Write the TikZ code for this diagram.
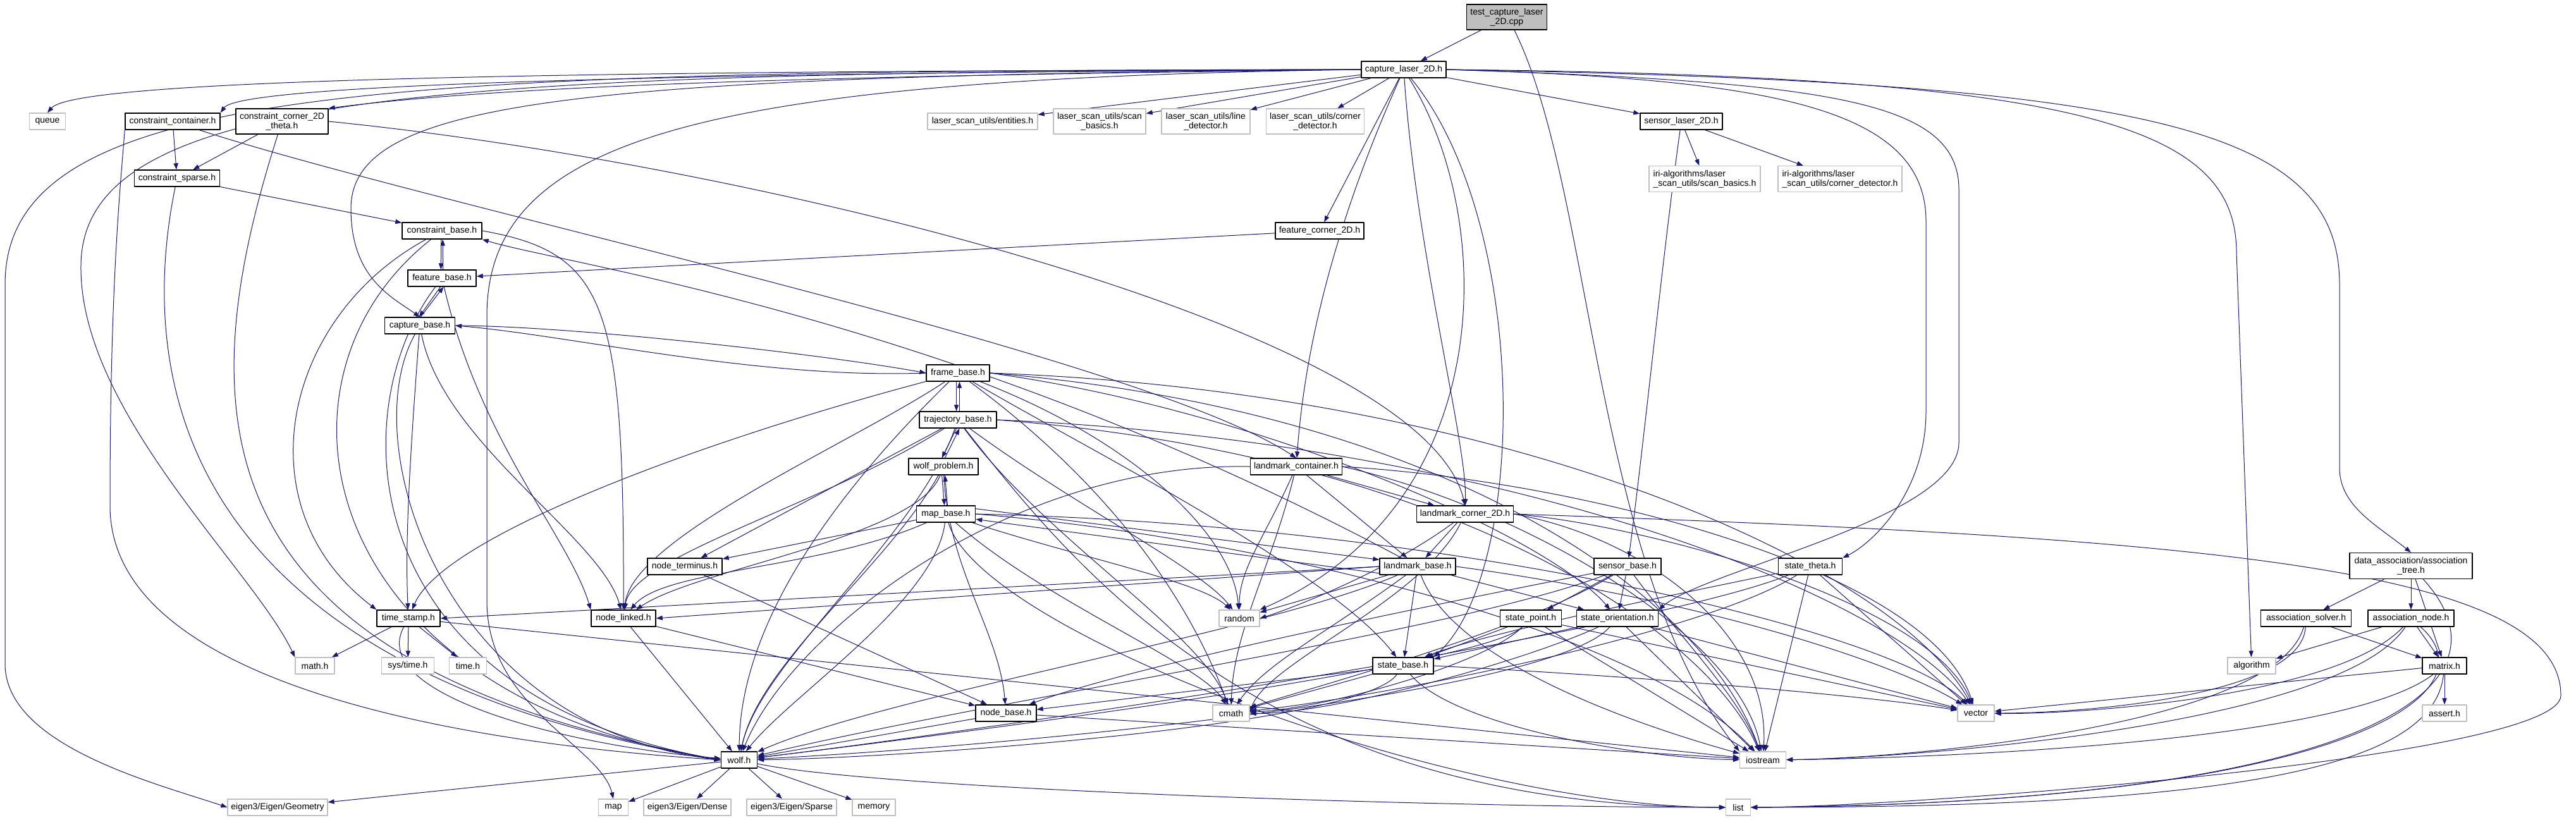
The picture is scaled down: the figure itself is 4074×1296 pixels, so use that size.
\documentclass[tikz,border=0pt]{standalone}
\usepackage{fontspec}
\setmainfont{Liberation Sans}
\usetikzlibrary{arrows.meta}
\definecolor{edgeblue}{HTML}{191970}
\definecolor{sysgray}{HTML}{BFBFBF}
\pgfdeclarelayer{edges}
\pgfsetlayers{edges,main}
\begin{document}
\begin{tikzpicture}[x=0.5pt,y=0.5pt,line join=round,
  hdr/.style={draw=black,fill=white,line width=0.7pt,minimum height=13pt,inner sep=1pt,font=\fontsize{7}{7.5}\selectfont,align=center},
  sys/.style={hdr,draw=sysgray,line width=0.6pt},
  root/.style={hdr,fill=sysgray},
  inc/.style={draw=edgeblue,line width=0.5pt,-{Triangle[length=5pt,width=3.6pt]}}]
\useasboundingbox (0,0) rectangle (4074,-1296);
\node[root,minimum width=63.5pt,minimum height=20pt] (test) at (2383,-27) {test\_capture\_laser\\\_2D.cpp};
\node[hdr,minimum width=67pt] (CL) at (2220,-110) {capture\_laser\_2D.h};
\node[sys,minimum width=28.5pt] (queue) at (75,-192) {queue};
\node[hdr,minimum width=75pt] (CC) at (273,-192) {constraint\_container.h};
\node[hdr,minimum width=73pt,minimum height=20pt] (CCT) at (446,-192) {constraint\_corner\_2D\\\_theta.h};
\node[sys,minimum width=87pt] (ent) at (1554,-192) {laser\_scan\_utils/entities.h};
\node[sys,minimum width=73pt,minimum height=20pt] (scan) at (1739,-192) {laser\_scan\_utils/scan\\\_basics.h};
\node[sys,minimum width=70pt,minimum height=20pt] (line) at (1907,-192) {laser\_scan\_utils/line\\\_detector.h};
\node[sys,minimum width=77.5pt,minimum height=20pt] (corner) at (2080,-192) {laser\_scan\_utils/corner\\\_detector.h};
\node[hdr,minimum width=65pt] (SL) at (2659,-192) {sensor\_laser\_2D.h};
\node[hdr,minimum width=67.5pt] (CS) at (280,-282) {constraint\_sparse.h};
\node[sys,minimum width=88pt,minimum height=20.5pt,align=left] (IRIscan) at (2696,-283) {iri-algorithms/laser\\\_scan\_utils/scan\_basics.h};
\node[sys,minimum width=98pt,minimum height=20.5pt,align=left] (IRIcorner) at (2910,-283) {iri-algorithms/laser\\\_scan\_utils/corner\_detector.h};
\node[hdr,minimum width=63pt] (Cbase) at (699,-365) {constraint\_base.h};
\node[hdr,minimum width=70pt] (FC) at (2087,-365) {feature\_corner\_2D.h};
\node[hdr,minimum width=54pt] (Fbase) at (699,-440) {feature\_base.h};
\node[hdr,minimum width=55.5pt] (Capbase) at (664,-515) {capture\_base.h};
\node[hdr,minimum width=50pt] (Frame) at (1515,-590) {frame\_base.h};
\node[hdr,minimum width=61pt] (Traj) at (1515,-664) {trajectory\_base.h};
\node[hdr,minimum width=55pt] (WP) at (1492,-738) {wolf\_problem.h};
\node[hdr,minimum width=72.5pt] (LC) at (2050,-738) {landmark\_container.h};
\node[hdr,minimum width=46.5pt] (MB) at (1496,-813) {map\_base.h};
\node[hdr,minimum width=76.5pt] (LCor) at (2317,-813) {landmark\_corner\_2D.h};
\node[hdr,minimum width=59pt] (NT) at (1083,-896) {node\_terminus.h};
\node[hdr,minimum width=60pt] (LB) at (2242,-896) {landmark\_base.h};
\node[hdr,minimum width=53pt] (SB) at (2574,-896) {sensor\_base.h};
\node[hdr,minimum width=50.5pt] (STh) at (2863,-896) {state\_theta.h};
\node[hdr,minimum width=97pt,minimum height=20.5pt] (AT) at (3813,-895) {data\_association/association\\\_tree.h};
\node[hdr,minimum width=50pt] (TS) at (646,-978) {time\_stamp.h};
\node[hdr,minimum width=51pt] (NL) at (986,-978) {node\_linked.h};
\node[sys,minimum width=32pt] (random) at (1960,-978) {random};
\node[hdr,minimum width=48.5pt] (SP) at (2421,-978) {state\_point.h};
\node[hdr,minimum width=64.5pt] (SO) at (2558,-978) {state\_orientation.h};
\node[hdr,minimum width=71.5pt] (AS) at (3647,-978) {association\_solver.h};
\node[hdr,minimum width=68pt] (AN) at (3813,-978) {association\_node.h};
\node[sys,minimum width=31pt] (mathh) at (498,-1053) {math.h};
\node[sys,minimum width=41.5pt] (systime) at (645,-1053) {sys/time.h};
\node[sys,minimum width=29.5pt] (timeh) at (740,-1053) {time.h};
\node[hdr,minimum width=48pt] (StB) at (2219,-1053) {state\_base.h};
\node[sys,minimum width=38pt] (algorithm) at (3561,-1053) {algorithm};
\node[hdr,minimum width=35pt] (matrix) at (3866,-1053) {matrix.h};
\node[hdr,minimum width=48pt] (NB) at (1591,-1128) {node\_base.h};
\node[sys,minimum width=29pt] (cmath) at (1947,-1128) {cmath};
\node[sys,minimum width=29pt] (vector) at (3125,-1128) {vector};
\node[sys,minimum width=35pt] (assert) at (3866,-1128) {assert.h};
\node[hdr,minimum width=28.5pt] (wolf) at (1169,-1202) {wolf.h};
\node[sys,minimum width=36.5pt] (iostream) at (2788,-1202) {iostream};
\node[sys,minimum width=79pt] (Geometry) at (439,-1277) {eigen3/Eigen/Geometry};
\node[sys,minimum width=23.5pt] (map) at (970,-1277) {map};
\node[sys,minimum width=69pt] (Dense) at (1087,-1277) {eigen3/Eigen/Dense};
\node[sys,minimum width=71pt] (Sparse) at (1252,-1277) {eigen3/Eigen/Sparse};
\node[sys,minimum width=34pt] (memory) at (1382,-1277) {memory};
\node[sys,minimum width=19.5pt] (list) at (2749,-1277) {list};
\begin{pgfonlayer}{edges}
% test_capture_laser_2D.cpp
\draw[inc] (test) -- (CL);
\draw[inc] (test.-60) .. controls (2520,-300) and (2520,-900) .. (iostream.north west);
% capture_laser_2D.h
\draw[inc] (CL.west) .. controls (900,-112) and (120,-125) .. (queue.north);
\draw[inc] (CL.west) .. controls (1000,-116) and (380,-135) .. (CC.north east);
\draw[inc] (CL.west) .. controls (1300,-120) and (800,-135) .. (CCT.north east);
\draw[inc] (CL.west) .. controls (900,-120) and (555,-160) .. (555,-330) .. controls (555,-440) and (620,-470) .. (Capbase.north);
\draw[inc] (CL.west) .. controls (700,-115) and (130,-140) .. (128,-420) .. controls (125,-650) and (400,-900) .. (mathh.north west);
\draw[inc] (CL.west) .. controls (600,-112) and (8,-130) .. (8,-450) -- (8,-1050) .. controls (8,-1180) and (250,-1240) .. (Geometry.west);
\draw[inc] (CL.west) .. controls (1100,-125) and (770,-220) .. (770,-500) -- (770,-950) .. controls (770,-1120) and (950,-1180) .. (map.north);
\draw[inc] (CL) -- (ent);
\draw[inc] (CL) -- (scan);
\draw[inc] (CL) -- (line);
\draw[inc] (CL) -- (corner);
\draw[inc] (CL) -- (SL);
\draw[inc] (CL) -- (FC);
\draw[inc] (CL) .. controls (2090,-400) and (2060,-600) .. (LC);
\draw[inc] (CL) .. controls (2240,-400) and (2320,-700) .. (LCor);
\draw[inc] (CL) .. controls (2369,-350) and (2369,-800) .. (random.north east);
\draw[inc] (CL) .. controls (2418,-350) and (2418,-900) .. (StB.north east);
\draw[inc] (CL.east) .. controls (2800,-125) and (3046,-170) .. (3046,-350) -- (3046,-650) .. controls (3046,-780) and (2960,-860) .. (STh.north east);
\draw[inc] (CL.east) .. controls (2900,-130) and (3098,-160) .. (3098,-300) -- (3098,-700) .. controls (3098,-820) and (2700,-900) .. (SO.north east);
\draw[inc] (CL.east) .. controls (3300,-120) and (3537,-200) .. (3537,-400) -- (algorithm);
\draw[inc] (CL.east) .. controls (3400,-130) and (3700,-200) .. (3700,-450) -- (3700,-740) .. controls (3700,-800) and (3758,-830) .. (AT.north);
% constraints
\draw[inc] (CC) -- (CS);
\draw[inc] (CC.south west) .. controls (190,-300) and (174,-450) .. (174,-800) .. controls (174,-1100) and (800,-1180) .. (wolf.west);
\draw[inc] (CC) .. controls (700,-330) and (1800,-560) .. (LC.north);
\draw[inc] (CCT) -- (CS);
\draw[inc] (CCT) .. controls (300,-650) and (300,-1050) .. (wolf.west);
\draw[inc] (CCT.east) .. controls (1200,-260) and (2250,-520) .. (LCor.north);
\draw[inc] (CS) -- (Cbase);
\draw[inc] (CS) .. controls (225,-550) and (235,-1050) .. (wolf.west);
\draw[inc] (Cbase.-95) -- (Fbase.97);
\draw[inc] (Cbase.east) .. controls (960,-400) and (987,-480) .. (NL);
\draw[inc] (Cbase) .. controls (450,-500) and (380,-800) .. (TS.north west);
\draw[inc] (Cbase) .. controls (400,-600) and (500,-1100) .. (wolf.west);
% feature / capture
\draw[inc] (Fbase.83) -- (Cbase.-85);
\draw[inc] (Fbase.-100) -- (Capbase.95);
\draw[inc] (Fbase) .. controls (760,-700) and (900,-850) .. (NL.north west);
\draw[inc] (Fbase) .. controls (540,-650) and (560,-1100) .. (wolf.west);
\draw[inc] (FC) -- (Fbase);
\draw[inc] (Capbase.85) -- (Fbase.-80);
\draw[inc] (Capbase.east) .. controls (900,-515) and (1300,-560) .. (Frame.west);
\draw[inc] (Capbase) .. controls (650,-700) and (640,-850) .. (TS);
\draw[inc] (Capbase) .. controls (560,-700) and (700,-1150) .. (wolf.west);
\draw[inc] (Capbase) .. controls (700,-700) and (950,-850) .. (NL);
% frame / trajectory / problem / map
\draw[inc] (Frame.-100) -- (Traj.100);
\draw[inc] (Frame.west) .. controls (1200,-600) and (900,-530) .. (Capbase.east);
\draw[inc] (Frame) .. controls (1350,-700) and (1000,-850) .. (NL);
\draw[inc] (Frame) .. controls (1100,-700) and (700,-850) .. (TS);
\draw[inc] (Frame) .. controls (1300,-800) and (1170,-1000) .. (wolf);
\draw[inc] (Frame) .. controls (1700,-700) and (2100,-900) .. (StB);
\draw[inc] (Frame.east) .. controls (2000,-650) and (2450,-850) .. (SO);
\draw[inc] (Frame.east) .. controls (2400,-620) and (3000,-900) .. (vector);
\draw[inc] (Frame.east) .. controls (2300,-650) and (2700,-950) .. (iostream);
\draw[inc] (Frame) .. controls (1800,-800) and (1900,-1000) .. (cmath);
\draw[inc] (Frame) .. controls (1800,-700) and (1950,-850) .. (random);
\draw[inc] (Traj.80) -- (Frame.-80);
\draw[inc] (Traj.-100) -- (WP.100);
\draw[inc] (Traj) .. controls (1300,-800) and (1000,-880) .. (NL);
\draw[inc] (Traj) -- (NT);
\draw[inc] (Traj) .. controls (1450,-850) and (1200,-1050) .. (wolf);
\draw[inc] (Traj) .. controls (1700,-800) and (1900,-900) .. (random);
\draw[inc] (Traj) .. controls (1650,-850) and (1900,-1000) .. (cmath);
\draw[inc] (Traj.east) .. controls (2400,-700) and (3000,-950) .. (vector);
\draw[inc] (Traj.east) .. controls (2300,-720) and (2700,-1000) .. (iostream);
\draw[inc] (Traj) .. controls (1700,-900) and (2000,-1277) .. (list.west);
\draw[inc] (WP.80) -- (Traj.-80);
\draw[inc] (WP.-100) -- (MB.100);
\draw[inc] (WP) .. controls (1400,-900) and (1200,-1050) .. (wolf);
\draw[inc] (WP) .. controls (1450,-850) and (1100,-900) .. (NL);
\draw[inc] (WP) .. controls (1500,-900) and (1580,-1000) .. (NB);
\draw[inc] (MB.80) -- (WP.-80);
\draw[inc] (MB.10) -- (LB.170);
\draw[inc] (MB) -- (NT);
\draw[inc] (MB) .. controls (1300,-900) and (1050,-900) .. (NL);
\draw[inc] (MB) .. controls (1480,-950) and (1250,-1100) .. (wolf);
\draw[inc] (MB) .. controls (1700,-880) and (1900,-920) .. (random);
\draw[inc] (MB) .. controls (1650,-950) and (1900,-1050) .. (cmath);
\draw[inc] (MB) .. controls (1550,-1000) and (2300,-1277) .. (list.west);
\draw[inc] (MB.east) .. controls (2000,-850) and (2600,-1000) .. (iostream);
\draw[inc] (MB.east) .. controls (2300,-830) and (3000,-1000) .. (vector);
% landmarks
\draw[inc] (LC) -- (LCor);
\draw[inc] (LC) -- (LB);
\draw[inc] (LC.west) .. controls (1600,-730) and (1250,-1000) .. (wolf);
\draw[inc] (LC) .. controls (2000,-850) and (1960,-900) .. (random);
\draw[inc] (LC) .. controls (2010,-900) and (1950,-1000) .. (cmath);
\draw[inc] (LC.east) .. controls (2500,-760) and (3050,-900) .. (vector);
\draw[inc] (LC.east) .. controls (2400,-800) and (2750,-1000) .. (iostream);
\draw[inc] (LCor) -- (LB);
\draw[inc] (LCor) .. controls (2200,-900) and (2050,-960) .. (random.east);
\draw[inc] (LCor) .. controls (2250,-950) and (2000,-1050) .. (cmath.east);
\draw[inc] (LCor.east) .. controls (2600,-830) and (3050,-950) .. (vector);
\draw[inc] (LCor.east) .. controls (2600,-850) and (2800,-1000) .. (iostream);
\draw[inc] (LCor.east) .. controls (3500,-850) and (4050,-900) .. (4050,-1100) .. controls (4050,-1200) and (3000,-1277) .. (list.east);
\draw[inc] (LB.-170) -- (MB.-10);
\draw[inc] (LB) .. controls (1500,-500) and (900,-420) .. (Cbase.south east);
\draw[inc] (LB.west) -- (NL.east);
\draw[inc] (LB.west) -- (TS.east);
\draw[inc] (LB) -- (random);
\draw[inc] (LB) .. controls (2100,-1000) and (2000,-1050) .. (cmath);
\draw[inc] (LB) -- (StB);
\draw[inc] (LB) -- (SO);
\draw[inc] (LB.east) .. controls (2700,-950) and (3000,-1050) .. (vector);
\draw[inc] (LB) .. controls (2300,-1050) and (2600,-1150) .. (iostream);
\draw[inc] (LB) .. controls (2000,-1000) and (1400,-1100) .. (wolf);
% sensors and states
\draw[inc] (SL) -- (IRIscan);
\draw[inc] (SL) -- (IRIcorner);
\draw[inc] (SL) .. controls (2630,-400) and (2600,-700) .. (SB);
\draw[inc] (SB) -- (SP);
\draw[inc] (SB) -- (SO);
\draw[inc] (SB) .. controls (2300,-1000) and (1600,-1100) .. (wolf);
\draw[inc] (SB) .. controls (2300,-950) and (1800,-1050) .. (NB);
\draw[inc] (SB) .. controls (2650,-1000) and (2750,-1100) .. (iostream);
\draw[inc] (SB) .. controls (2400,-1000) and (2100,-1080) .. (cmath);
\draw[inc] (STh) .. controls (2700,-930) and (2350,-1000) .. (StB);
\draw[inc] (STh) .. controls (2600,-1000) and (1600,-1150) .. (wolf);
\draw[inc] (STh) .. controls (2700,-1000) and (2200,-1100) .. (cmath);
\draw[inc] (STh) -- (iostream);
\draw[inc] (STh) -- (vector);
\draw[inc] (SP) -- (StB);
\draw[inc] (SP) .. controls (2350,-1050) and (1600,-1150) .. (wolf);
\draw[inc] (SP) .. controls (2350,-1050) and (2100,-1120) .. (cmath);
\draw[inc] (SP) -- (iostream);
\draw[inc] (SP) -- (vector);
\draw[inc] (SO) -- (StB);
\draw[inc] (SO) .. controls (2450,-1100) and (1600,-1180) .. (wolf);
\draw[inc] (SO) .. controls (2400,-1050) and (2100,-1130) .. (cmath);
\draw[inc] (SO) -- (iostream);
\draw[inc] (SO) -- (vector);
\draw[inc] (StB) -- (NB);
\draw[inc] (StB) .. controls (2150,-1150) and (1400,-1200) .. (wolf);
\draw[inc] (StB) -- (cmath);
\draw[inc] (StB) .. controls (2300,-1150) and (2600,-1200) .. (iostream);
\draw[inc] (StB.east) .. controls (2600,-1070) and (2950,-1100) .. (vector);
% nodes and time
\draw[inc] (TS) -- (mathh);
\draw[inc] (TS) -- (systime);
\draw[inc] (TS) -- (timeh);
\draw[inc] (TS) .. controls (580,-1100) and (900,-1180) .. (wolf);
\draw[inc] (TS) -- (iostream);
\draw[inc] (NT) -- (NB);
\draw[inc] (NL) -- (NB);
\draw[inc] (NL) -- (wolf);
\draw[inc] (NB) -- (wolf);
\draw[inc] (NB) -- (iostream);
\draw[inc] (wolf) -- (Geometry);
\draw[inc] (wolf) -- (map);
\draw[inc] (wolf) -- (Dense);
\draw[inc] (wolf) -- (Sparse);
\draw[inc] (wolf) -- (memory);
\draw[inc] (wolf) .. controls (1400,-1250) and (2300,-1277) .. (list);
% data association
\draw[inc] (AT) -- (AS);
\draw[inc] (AT) -- (AN);
\draw[inc] (AT) -- (matrix);
\draw[inc] (AT) .. controls (4000,-1100) and (3700,-1270) .. (list.east);
\draw[inc] (AS) -- (matrix);
\draw[inc] (AS) .. controls (3640,-1100) and (3300,-1128) .. (vector);
\draw[inc] (AS) .. controls (3600,-1150) and (3000,-1200) .. (iostream);
\draw[inc] (AN) -- (algorithm);
\draw[inc] (AN) -- (matrix);
\draw[inc] (AN) .. controls (3700,-1100) and (3300,-1130) .. (vector);
\draw[inc] (AN) .. controls (3700,-1150) and (3000,-1200) .. (iostream);
\draw[inc] (AN) .. controls (3950,-1100) and (3700,-1270) .. (list.east);
\draw[inc] (matrix) -- (assert);
\draw[inc] (matrix) -- (vector);
\draw[inc] (matrix) .. controls (3700,-1180) and (3000,-1200) .. (iostream);
\draw[inc] (matrix) .. controls (3850,-1200) and (3600,-1277) .. (list.east);
\end{pgfonlayer}
\end{tikzpicture}
\end{document}
